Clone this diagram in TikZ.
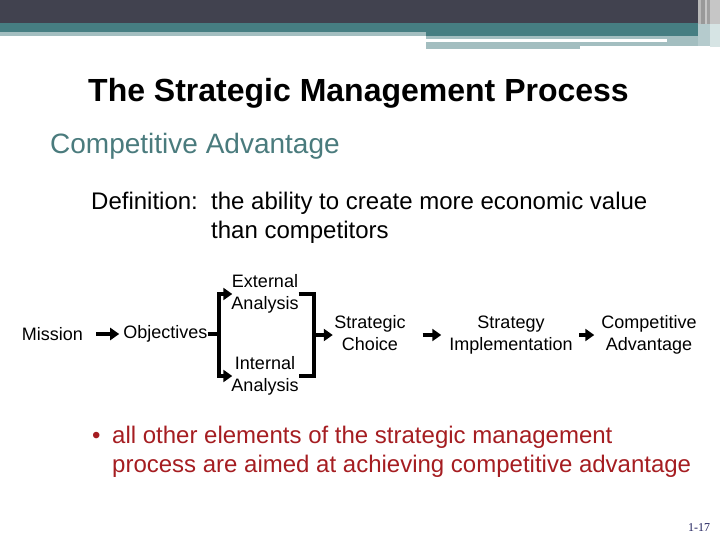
\documentclass[tikz,border=0pt]{standalone}
\usepackage{fontspec}
\setmainfont{Liberation Sans}
\newfontfamily\numfont{Liberation Serif}
\usepackage{xcolor}
\usepackage{tikz}
\usetikzlibrary{positioning, arrows.meta}

\definecolor{bandDark}{HTML}{41424F}
\definecolor{bandTeal}{HTML}{467E82}
\definecolor{bandLight}{HTML}{A3BEC0}
\definecolor{bandPale}{HTML}{D6E4E4}
\definecolor{subTeal}{HTML}{4A7B7D}
\definecolor{noteRed}{HTML}{A51D21}
\definecolor{pageBlue}{HTML}{1E1F5C}

\begin{document}
\begin{tikzpicture}[x=1pt,y=-1pt,
  step box/.style={inner sep=0pt, align=center, font=\fontsize{18}{22}\selectfont},
  line txt/.style={inner sep=0pt, anchor=base west},
  arr/.style={line width=3.8pt, -{Triangle[length=9pt,width=12pt]}},
  bar/.style={line width=3.8pt}]

\useasboundingbox (0,0) rectangle (720,540);

% Header bands
\fill[bandDark] (0,0) rectangle (720,24);
\fill[bandTeal] (0,23) rectangle (698,32);
\fill[bandLight] (0,32) rectangle (426,36);
\fill[bandTeal] (426,32) rectangle (698,36);
\fill[bandLight] (426,36) rectangle (667,39);
\fill[bandLight] (426,42) rectangle (580,49);
\fill[bandLight] (580,42) rectangle (667,46);
\fill[bandLight] (667,36) rectangle (698,46);
\fill[gray!55] (698,0) rectangle (701,24);
\fill[gray!80] (701,0) rectangle (705,24);
\fill[gray!45] (705,0) rectangle (707,24);
\fill[gray!75] (707,0) rectangle (710,24);
\fill[gray!45] (710,0) rectangle (720,24);
\fill[bandLight!80] (698,24) rectangle (710,46);
\fill[bandPale] (710,24) rectangle (720,47);

% Titles
\node[line txt, font=\bfseries\fontsize{32}{36}\selectfont] (title) at (88,102) {The Strategic Management Process};
\node[line txt, text=subTeal, font=\fontsize{28}{32}\selectfont] (sub) at (50,154) {Competitive Advantage};
\node[line txt, font=\fontsize{24}{29}\selectfont] (deflabel) at (91,210) {Definition:};
\node[line txt, font=\fontsize{24}{29}\selectfont] (defa) at (211,210) {the ability to create more economic value};
\node[line txt, font=\fontsize{24}{29}\selectfont] (defb) at (211,238) {than competitors};

% Define nodes
\node[step box] (mission) at (52.5,334) {Mission};
\node[step box, right=40pt of mission] (objectives) {Objectives};
\node[step box] (external) at (265,294) {External\\Analysis};
\node[step box] (internal) at (265,376) {Internal\\Analysis};
\node[step box] (choice) at (370,333) {Strategic\\Choice};
\node[step box] (impl) at (511,335) {Strategy\\Implementation};
\node[step box] (adv) at (649,335) {Competitive\\Advantage};
\coordinate (split) at ([xshift=11pt]objectives.east);
\coordinate (join) at ([xshift=15pt]external.east |- impl);

% Connect the nodes
\draw[arr] ([xshift=13pt]mission.east) -- ([xshift=-4pt]objectives.west);
\draw[bar] (objectives.east) -- (split);
\draw[arr] (split) |- ([xshift=1pt]external.west);
\draw[arr] (split) |- ([xshift=1pt]internal.west);
\draw[bar] (external.east) -| (join) |- (internal.east);
\draw[arr] (join) -- ([xshift=-1.5pt]join -| choice.west);
\draw[arr] ([xshift=17pt]choice.east |- impl) -- ([xshift=-8pt]impl.west);
\draw[arr] ([xshift=6.5pt]impl.east) -- ([xshift=-7pt]adv.west);

% Note
\node[line txt, text=noteRed, font=\fontsize{24}{29}\selectfont] (bullet) at (92,443) {\textbullet};
\node[line txt, text=noteRed, font=\fontsize{24}{29}\selectfont] (notea) at (112,443) {all other elements of the strategic management};
\node[line txt, text=noteRed, font=\fontsize{24}{29}\selectfont] (noteb) at (112,472) {process are aimed at achieving competitive advantage};

% Page number
\node[line txt, text=pageBlue, font=\numfont\fontsize{12}{14}\selectfont] (page) at (688,531) {1-17};
\end{tikzpicture}
\end{document}
